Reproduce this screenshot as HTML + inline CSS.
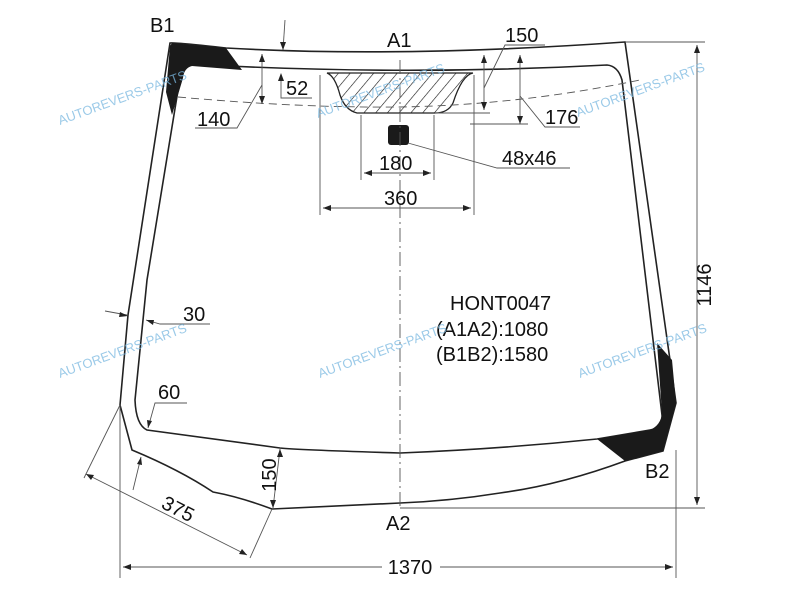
<!DOCTYPE html>
<html><head><style>body{margin:0;background:#fff}svg{display:block}text{font-family:"Liberation Sans",Arial,sans-serif;fill:#111}</style></head><body>
<svg width="800" height="600" viewBox="0 0 800 600" xmlns="http://www.w3.org/2000/svg">
<defs><pattern id="h" width="9" height="9" patternUnits="userSpaceOnUse" patternTransform="rotate(40)"><line x1="0" y1="0" x2="0" y2="9" stroke="#111" stroke-width="1.2"/></pattern></defs>
<g fill="none" stroke="#222" stroke-width="1.6">
<path d="M170,43 Q173,42 226,48 Q400,58 625,42 L670,360 L676,403 L663,451 L625,461 Q560,485 500,493 Q450,501 400,503 L272,509 Q240,497 213,492 Q180,470 132,450 L120,405 L128,315 Z"/>
<path d="M190,64 Q400,76 607,65 Q618,66 622,80 L662,415 Q663,428 650,430 L597,439 Q500,449 400,453 Q300,450 280,448 L147,430 Q136,425 135,400 L147,280 L180,78 Q182,66 190,64 Z"/>
</g>
<path d="M172,43 L226,48 L242,70 L192,66 Q184,68 183,78 L172,115 L166,92 L170,46 Z" fill="#1a1a1a"/>
<path d="M657,343 L672,360 L676,403 L663,451 L625,461 L597,439 L650,430 Q661,425 662,413 Z" fill="#1a1a1a"/>
<path d="M327,73 L473,73 Q462,75 453,103 Q448,113 435,113 L357,113 Q345,110 340,95 Q335,76 327,73 Z" fill="url(#h)" stroke="#222" stroke-width="1.3"/>
<rect x="388" y="125" width="21" height="20" rx="3" fill="#1a1a1a"/>
<g fill="none" stroke="#555" stroke-width="0.9">
<path d="M178,97 Q300,108 400,107 Q520,105 640,80" stroke-dasharray="8,5"/>
<line x1="400" y1="60" x2="400" y2="510" stroke-dasharray="14,4,2,4"/>
<line x1="120" y1="405" x2="120" y2="578"/><line x1="676" y1="450" x2="676" y2="578"/>
<line x1="123" y1="567" x2="673" y2="567"/>
<line x1="625" y1="42" x2="705" y2="42"/><line x1="400" y1="508" x2="705" y2="508"/>
<line x1="697" y1="45" x2="697" y2="505"/>
<line x1="320" y1="75" x2="320" y2="215"/><line x1="474" y1="75" x2="474" y2="215"/><line x1="323" y1="208" x2="471" y2="208"/>
<line x1="361" y1="115" x2="361" y2="180"/><line x1="434" y1="115" x2="434" y2="180"/><line x1="364" y1="173" x2="431" y2="173"/>
<path d="M408,143 L497,168 L570,168"/>
<path d="M281,75 L281,98 L312,98"/>
<line x1="262" y1="54" x2="262" y2="104"/><path d="M262,85 L237,128 L195,128"/>
<line x1="285" y1="20" x2="283" y2="50"/>
<line x1="484" y1="55" x2="484" y2="110"/><path d="M484,88 L505,45 L545,45"/>
<line x1="520" y1="55" x2="520" y2="124"/><path d="M520,96 L545,127 L580,127"/>
<line x1="435" y1="113" x2="490" y2="113"/><line x1="470" y1="124" x2="528" y2="124"/>
<line x1="105" y1="311" x2="127" y2="315"/><path d="M146,320 L160,324 L210,324"/>
<path d="M148,428 L155,403 L187,403"/>
<line x1="120" y1="405" x2="84" y2="478"/><line x1="272" y1="509" x2="250" y2="558"/>
<line x1="86" y1="474" x2="247" y2="555"/>
<line x1="141" y1="457" x2="133" y2="490"/>
<line x1="280" y1="449" x2="273" y2="508"/>
</g>
<g fill="#222">
<path d="M123,567 l8,-3 v6z"/><path d="M673,567 l-8,-3 v6z"/>
<path d="M697,45 l-3,8 h6z"/><path d="M697,505 l-3,-8 h6z"/>
<path d="M323,208 l8,-3 v6z"/><path d="M471,208 l-8,-3 v6z"/>
<path d="M364,173 l8,-3 v6z"/><path d="M431,173 l-8,-3 v6z"/>
<path d="M281,73 l-3,8 h6z"/>
<path d="M262,54 l-3,8 h6z"/><path d="M262,104 l-3,-8 h6z"/>
<path d="M283,50 l-3,-8 h6z"/>
<path d="M484,55 l-3,8 h6z"/><path d="M484,110 l-3,-8 h6z"/>
<path d="M520,55 l-3,8 h6z"/><path d="M520,124 l-3,-8 h6z"/>
<path d="M128,316 l-8,-4 l-1,5z"/><path d="M146,320 l8,0 l-1,5z"/>
<path d="M148,428 l-1,-8 l5,1z"/>
<path d="M86,474 l8,1 l-3,5z"/><path d="M247,555 l-8,-1 l3,-5z"/>
<path d="M141,457 l-4,7 l5,1z"/>
<path d="M280,449 l-3,8 h6z"/><path d="M273,508 l-3,-8 h6z"/>
</g>
<g font-size="20">
<text x="150" y="32">B1</text><text x="387" y="47">A1</text>
<text x="505" y="42">150</text><text x="545" y="124">176</text>
<text x="286" y="95">52</text><text x="197" y="126">140</text>
<text x="379" y="170">180</text><text x="502" y="165">48x46</text>
<text x="384" y="205">360</text>
<text x="183" y="321">30</text><text x="158" y="399">60</text>
<text x="450" y="310">HONT0047</text><text x="436" y="336">(A1A2):1080</text><text x="436" y="361">(B1B2):1580</text>
<text x="645" y="478">B2</text><text x="386" y="530">A2</text>
<text x="711" y="285" transform="rotate(-90 711 285)" text-anchor="middle">1146</text>
<text x="276" y="475" transform="rotate(-90 276 475)" text-anchor="middle">150</text>
<text x="175" y="515" transform="rotate(27 175 515)" text-anchor="middle">375</text>
</g>
<rect x="382" y="556" width="58" height="22" fill="#fff"/>
<text x="410" y="574" font-size="20" text-anchor="middle">1370</text>
<g font-size="13" opacity="0.75">
<text x="60" y="125" transform="rotate(-20 60 125)" style="fill:#7ab8e0">AUTOREVERS-PARTS</text>
<text x="318" y="118" transform="rotate(-20 318 118)" style="fill:#7ab8e0">AUTOREVERS-PARTS</text>
<text x="578" y="117" transform="rotate(-20 578 117)" style="fill:#7ab8e0">AUTOREVERS-PARTS</text>
<text x="60" y="378" transform="rotate(-20 60 378)" style="fill:#7ab8e0">AUTOREVERS-PARTS</text>
<text x="320" y="378" transform="rotate(-20 320 378)" style="fill:#7ab8e0">AUTOREVERS-PARTS</text>
<text x="580" y="378" transform="rotate(-20 580 378)" style="fill:#7ab8e0">AUTOREVERS-PARTS</text>
</g>
</svg>
</body></html>
